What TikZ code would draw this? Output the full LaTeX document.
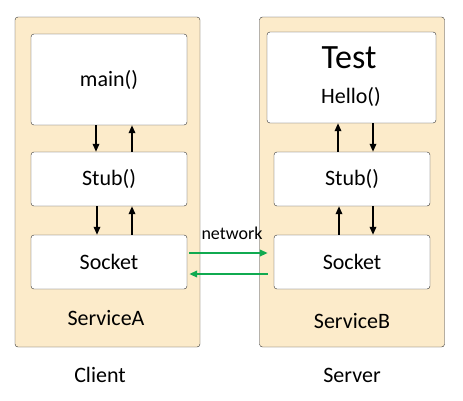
\documentclass[tikz,border=0pt]{standalone}
\usepackage{fontspec}
\setmainfont{Carlito}
\usetikzlibrary{arrows.meta}
\definecolor{svcbeige}{RGB}{252,235,202}
\definecolor{netgreen}{RGB}{16,170,80}

\begin{document}
\begin{tikzpicture}[x=1pt,y=-1pt,>={Triangle[length=8pt,width=6.5pt]},
  svc/.style={draw=black!80,fill=svcbeige,rounded corners=3pt,inner sep=0pt,
    minimum width=185pt,minimum height=330pt},
  box/.style={draw=black!80,fill=white,rounded corners=3pt,inner sep=0pt,
    minimum width=156pt,minimum height=54pt,font=\fontsize{22}{26}\selectfont},
  lbl/.style={font=\fontsize{22}{26}\selectfont},
  call/.style={->,line width=1.7pt},
  net/.style={->,line width=2pt,netgreen}]
\useasboundingbox (0,0) rectangle (463,400);
% client side
\node[svc] (svcA) at (107.5,182) {};
\node[box,minimum height=91pt] (main) at (109,79.5) {main()};
\node[box] (stubA) at (109,179) {Stub()};
\node[box] (sockA) at (109,262) {Socket};
\node[lbl] (nameA) at (106,318) {ServiceA};
\node[lbl] (client) at (100,375) {Client};
% server side
\node[svc] (svcB) at (352,182) {};
\node[box,minimum width=169pt,minimum height=91pt] (test) at (351.5,77.5) {};
\node[font=\fontsize{34}{38}\selectfont] (testname) at (349,58) {Test};
\node[lbl] (hello) at (351,97) {Hello()};
\node[box] (stubB) at (352,179) {Stub()};
\node[box] (sockB) at (352,262) {Socket};
\node[lbl] (nameB) at (352,321) {ServiceB};
\node[lbl] (server) at (352,375) {Server};
% calls inside A
\draw[call] ([xshift=-13pt]main.south) -- ([xshift=-13pt]stubA.north);
\draw[call] ([xshift=23pt]stubA.north) -- ([xshift=23pt]main.south);
\draw[call] ([xshift=-12pt]stubA.south) -- ([xshift=-12pt]sockA.north);
\draw[call] ([xshift=23pt]sockA.north) -- ([xshift=23pt]stubA.south);
% calls inside B
\draw[call] ([xshift=-14pt]stubB.north) -- ([xshift=-14pt]test.south-|stubB.north);
\draw[call] ([xshift=21pt]test.south-|stubB.north) -- ([xshift=21pt]stubB.north);
\draw[call] ([xshift=-13pt]sockB.north) -- ([xshift=-13pt]stubB.south);
\draw[call] ([xshift=21pt]stubB.south) -- ([xshift=21pt]sockB.north);
% network
\draw[net,shorten <=2pt,shorten >=6pt] ([yshift=9pt]sockA.east) -- ([yshift=9pt]sockB.west);
\draw[net,shorten <=6pt,shorten >=2pt] ([yshift=-12pt]sockB.west) -- ([yshift=-12pt]sockA.east);
\node[font=\fontsize{18}{22}\selectfont] (netlbl) at (232,233) {network};
\end{tikzpicture}
\end{document}
